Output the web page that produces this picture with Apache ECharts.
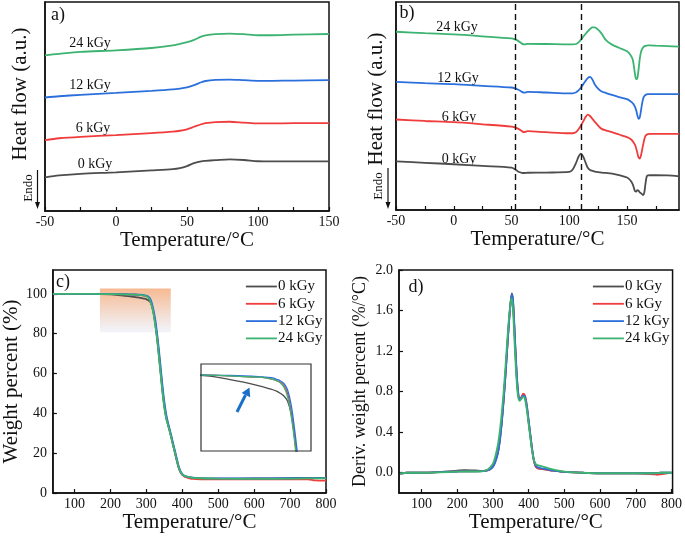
<!DOCTYPE html>
<html><head><meta charset="utf-8">
<script src="https://cdn.jsdelivr.net/npm/echarts@6/dist/echarts.min.js"></script>
<style>html,body{margin:0;padding:0;background:#fff}#c{width:685px;height:540px}</style>
</head><body><div id="c"></div>
<script>
// ---------- data ----------
const seriesNames = ['0 kGy', '6 kGy', '12 kGy', '24 kGy'];
const colors = ['#4d4d4d', '#f03c3c', '#2b6fdc', '#3cb371'];

// a) DSC first heating (arbitrary heat flow units, offset curves)
const aT = [-50, -40, -25, 0, 25, 40, 45, 50, 55, 60, 63, 70, 80, 90, 100, 110, 125, 150];
const a0 = [16.1, 17.0, 17.8, 18.5, 19.4, 20.0, 20.5, 21.5, 22.9, 23.8, 24.0, 24.3, 24.7, 24.4, 23.8, 23.7, 23.7, 23.7];
const a6 = [33.9, 34.8, 35.5, 36.3, 37.3, 38.0, 38.4, 39.1, 40.3, 41.5, 42.0, 42.5, 42.7, 42.3, 41.9, 41.9, 42.0, 42.0];
const a12 = [54.3, 54.9, 55.6, 56.5, 57.5, 58.2, 58.6, 59.2, 60.2, 61.6, 62.2, 62.7, 62.9, 62.6, 62.3, 62.3, 62.4, 62.6];
const a24 = [74.5, 75.2, 76.1, 76.9, 78.0, 79.2, 80.0, 80.8, 81.9, 83.4, 84.0, 84.6, 84.9, 84.6, 84.1, 84.1, 84.4, 84.7];

// b) DSC second heating
const bT = [-50, -25, 0, 25, 50, 53, 56, 59, 61, 64, 80, 100, 103, 106, 108, 110, 112, 114, 116, 118, 120, 122, 125, 128, 132, 137, 143, 150, 153, 155, 157, 158, 159, 160, 161, 162, 163, 164, 165, 166, 167, 168, 170, 175, 185, 195];
const b0 = [23.4, 22.7, 22.0, 21.2, 20.4, 19.6, 18.4, 17.9, 17.8, 17.9, 18.0, 18.3, 19.5, 22.8, 25.6, 27.1, 25.8, 23.0, 20.3, 19.2, 18.8, 18.5, 18.2, 18.0, 17.8, 17.5, 16.8, 15.6, 14.2, 12.3, 9.0, 8.9, 9.6, 9.3, 8.5, 8.1, 7.6, 7.2, 8.5, 12.7, 16.0, 16.6, 16.7, 16.7, 16.6, 16.2];
const b6 = [43.5, 42.8, 42.2, 41.2, 40.1, 39.7, 39.0, 37.9, 37.4, 37.9, 37.4, 36.9, 36.9, 37.5, 38.8, 40.5, 42.5, 44.6, 45.9, 45.2, 43.8, 42.5, 40.6, 39.0, 38.2, 37.4, 36.3, 35.0, 34.1, 33.0, 31.2, 29.5, 27.3, 25.3, 24.7, 26.0, 28.7, 31.5, 34.0, 35.6, 36.2, 36.5, 36.6, 36.6, 36.6, 36.6];
const b12 = [61.6, 61.0, 60.5, 59.7, 58.9, 58.5, 57.8, 56.8, 56.4, 56.8, 56.5, 56.1, 56.1, 56.6, 57.5, 58.8, 60.4, 62.0, 63.4, 64.0, 62.8, 60.5, 58.3, 57.0, 56.2, 55.3, 54.3, 53.3, 52.3, 51.3, 49.5, 47.8, 45.5, 43.8, 44.5, 47.5, 51.0, 53.6, 54.8, 55.3, 55.6, 55.7, 55.7, 55.7, 55.7, 55.7];
const b24 = [85.7, 85.0, 84.4, 83.5, 82.5, 82.0, 81.2, 80.0, 79.6, 79.9, 79.8, 79.6, 79.6, 79.8, 80.6, 81.8, 83.2, 84.6, 85.9, 87.0, 87.8, 87.8, 86.7, 84.8, 81.5, 79.5, 78.0, 76.3, 74.5, 72.2, 65.0, 62.9, 63.5, 67.5, 72.5, 75.8, 77.3, 78.2, 78.7, 78.9, 79.0, 79.1, 79.1, 79.0, 78.8, 78.5];
const bDashT = [53, 110];

// c) TGA
const tgaT = [40, 100, 150, 200, 230, 250, 270, 280, 290, 295, 300, 305, 310, 315, 320, 325, 330, 335, 340, 345, 350, 355, 360, 365, 370, 375, 380, 385, 390, 395, 400, 405, 410, 420, 430, 450, 500, 600, 700, 750, 770, 800];
const tga0 = [100, 100, 100, 99.8, 99.3, 98.9, 98.4, 98.1, 97.8, 97.6, 97.3, 96.9, 96.2, 94.3, 90.6, 85.0, 77.5, 69.0, 60.0, 51.0, 43.5, 38.0, 34.5, 31.2, 27.5, 23.6, 19.8, 16.0, 12.7, 10.5, 9.2, 8.5, 8.1, 7.7, 7.5, 7.3, 7.2, 7.3, 7.5, 7.6, 7.6, 7.6];
const tga6 = [100, 100, 100, 99.9, 99.8, 99.7, 99.6, 99.5, 99.3, 99.1, 98.9, 98.4, 97.3, 94.6, 90.6, 85.5, 78.5, 70.0, 61.0, 52.0, 44.5, 38.8, 34.8, 31.3, 27.8, 24.0, 20.3, 16.5, 13.0, 10.6, 9.2, 8.4, 7.9, 7.4, 7.1, 6.9, 6.8, 6.8, 6.9, 6.9, 6.3, 6.2];
const tga12 = [100, 100, 100, 99.9, 99.85, 99.8, 99.7, 99.6, 99.5, 99.3, 99.1, 98.7, 97.8, 95.6, 91.8, 87.0, 80.0, 72.0, 63.0, 54.0, 46.0, 39.8, 35.5, 32.0, 28.5, 24.6, 21.0, 17.2, 13.5, 11.0, 9.6, 8.8, 8.4, 8.0, 7.7, 7.5, 7.3, 7.3, 7.4, 7.5, 7.5, 7.5];
const tga24 = [100, 100, 100, 99.9, 99.8, 99.7, 99.6, 99.5, 99.3, 99.1, 98.8, 98.2, 96.8, 94.0, 90.0, 84.0, 77.5, 68.5, 59.5, 50.5, 43.0, 37.8, 34.3, 31.0, 27.3, 23.5, 20.0, 16.3, 12.8, 10.7, 9.4, 8.7, 8.3, 7.9, 7.6, 7.4, 7.2, 7.1, 7.2, 7.3, 7.3, 7.3];
const hlT = [171, 368];
const hlW = [80.7, 102.7];

// d) DTG
const dtgT = [40, 60, 100, 150, 200, 220, 250, 270, 280, 290, 300, 305, 310, 315, 320, 325, 330, 335, 340, 345, 350, 353, 356, 360, 365, 370, 375, 380, 385, 390, 395, 400, 405, 410, 415, 420, 425, 430, 440, 450, 470, 500, 550, 600, 700, 750, 760, 770, 800];
const dtg0 = [-0.01, 0, 0, 0.008, 0.02, 0.025, 0.022, 0.018, 0.02, 0.03, 0.06, 0.1, 0.15, 0.22, 0.35, 0.52, 0.73, 0.97, 1.23, 1.5, 1.7, 1.77, 1.7, 1.42, 1.05, 0.8, 0.72, 0.74, 0.77, 0.74, 0.64, 0.5, 0.36, 0.22, 0.12, 0.06, 0.045, 0.04, 0.035, 0.03, 0.02, 0.008, 0, -0.005, -0.005, -0.005, -0.004, 0, 0];
const dtg6 = [-0.01, 0, 0, 0.005, 0.012, 0.014, 0.014, 0.015, 0.02, 0.03, 0.065, 0.1, 0.15, 0.22, 0.34, 0.51, 0.72, 0.96, 1.23, 1.49, 1.69, 1.75, 1.69, 1.43, 1.06, 0.8, 0.73, 0.75, 0.78, 0.76, 0.66, 0.51, 0.36, 0.22, 0.11, 0.06, 0.045, 0.04, 0.035, 0.03, 0.02, 0.008, 0, -0.005, -0.005, -0.015, -0.02, -0.015, 0];
const dtg12 = [-0.01, 0, 0, 0.005, 0.012, 0.014, 0.014, 0.015, 0.02, 0.03, 0.06, 0.09, 0.14, 0.21, 0.33, 0.5, 0.71, 0.95, 1.22, 1.48, 1.69, 1.76, 1.71, 1.46, 1.09, 0.82, 0.73, 0.74, 0.76, 0.75, 0.66, 0.52, 0.37, 0.23, 0.12, 0.07, 0.055, 0.05, 0.04, 0.035, 0.02, 0.008, 0, -0.005, -0.005, -0.005, -0.004, 0, 0];
const dtg24 = [-0.01, 0, 0, 0.004, 0.01, 0.012, 0.012, 0.014, 0.022, 0.045, 0.09, 0.14, 0.21, 0.3, 0.43, 0.6, 0.8, 1.04, 1.3, 1.53, 1.69, 1.72, 1.62, 1.33, 0.98, 0.76, 0.71, 0.73, 0.75, 0.72, 0.62, 0.48, 0.34, 0.21, 0.12, 0.085, 0.075, 0.07, 0.06, 0.05, 0.03, 0.01, 0, -0.005, -0.005, -0.005, -0.003, 0, 0];

const xTicksAB = [-50, 0, 50, 100, 150];
const xMinorAB = [-50, -25, 0, 25, 50, 75, 100, 125, 150, 175];
const xTicksCD = [100, 200, 300, 400, 500, 600, 700, 800];
const yTicksC = [0, 20, 40, 60, 80, 100];
const yTicksD = [0, 0.4, 0.8, 1.2, 1.6, 2.0];

// ---------- chart ----------
const FF = '"Liberation Serif", "Times New Roman", serif';
const zip = (xs, ys) => xs.map((x, i) => [x, ys[i]]);
const chart = echarts.init(document.getElementById('c'), null, {renderer: 'canvas'});

function line(name, xi, data, ci, extra) {
  return Object.assign({
    type: 'line', name: name, xAxisIndex: xi, yAxisIndex: xi, data: data,
    symbol: 'none', smooth: 0.3, color: colors[ci],
    lineStyle: {width: 1.8, color: colors[ci]}, animation: false, z: 3
  }, extra || {});
}
const axisBase = {
  type: 'value', splitLine: {show: false},
  axisLine: {show: true, onZero: false, lineStyle: {color: '#111', width: 1.5}},
  axisTick: {show: true, inside: true, length: 4, lineStyle: {color: '#111', width: 1.2}},
  axisLabel: {fontFamily: FF, fontSize: 14, color: '#111'},
  nameTextStyle: {fontFamily: FF, fontSize: 21, color: '#111'}
};
function ax(o) { return echarts.util.merge(echarts.util.clone(axisBase), o, true); }

const dsc = [[a0, a6, a12, a24], [b0, b6, b12, b24]];
const tga = [tga0, tga6, tga12, tga24];
const dtg = [dtg0, dtg6, dtg12, dtg24];

const series = [];
seriesNames.forEach((n, i) => series.push(line(n, 0, zip(aT, dsc[0][i]), i)));
seriesNames.forEach((n, i) => series.push(line(n, 1, zip(bT, dsc[1][i]), i, i === 0 ? {
  markLine: {silent: true, symbol: 'none', label: {show: false},
    lineStyle: {type: [6, 4], color: '#111', width: 1.4},
    data: bDashT.map(v => ({xAxis: v}))}
} : {})));
seriesNames.forEach((n, i) => series.push(line(n, 2, zip(tgaT, tga[i]), i, i === 0 ? {
  markArea: {silent: true, z: 1,
    itemStyle: {color: {type: 'linear', x: 0, y: 0, x2: 0, y2: 1, colorStops: [
      {offset: 0, color: 'rgba(244,168,118,0.8)'}, {offset: 1, color: 'rgba(236,240,250,0.7)'}]}},
    data: [[{xAxis: hlT[0], yAxis: hlW[1]}, {xAxis: hlT[1], yAxis: hlW[0]}]]}
} : {})));
seriesNames.forEach((n, i) => series.push(line(n, 3, zip(dtgT, dtg[i]), i)));
seriesNames.forEach((n, i) => series.push(line(n, 4, zip(tgaT, tga[i]), i, {lineStyle: {width: 1.3, color: colors[i]}, clip: true})));

const legendBase = {
  data: seriesNames, orient: 'vertical', itemWidth: 31, itemHeight: 14, itemGap: 2.3, padding: 0,
  itemStyle: {opacity: 0, borderWidth: 0},
  lineStyle: {width: 1.8},
  textStyle: {fontFamily: FF, fontSize: 15, color: '#111', lineHeight: 14, padding: [0, 0, 0, -4]},
  selectedMode: false
};

function txt(x, y, s, size, rot) {
  return {type: 'text', x: x, y: y, rotation: rot || 0, silent: true,
    style: {text: s, font: size + 'px ' + FF, fill: '#111', textAlign: 'center', textVerticalAlign: 'middle', align: 'center', verticalAlign: 'middle'}};
}
function endoArrow(x, y1, y2) {
  return [
    {type: 'line', silent: true, shape: {x1: x, y1: y1, x2: x, y2: y2 - 5}, style: {stroke: '#111', lineWidth: 1.2}},
    {type: 'polygon', silent: true, shape: {points: [[x - 2.5, y2 - 7], [x + 2.5, y2 - 7], [x, y2]]}, style: {fill: '#111'}}
  ];
}

const graphic = [
  txt(58, 15, 'a)', 18), txt(407, 13, 'b)', 18), txt(63, 282, 'c)', 18), txt(416, 287, 'd)', 18),
  txt(90, 43, '24 kGy', 14), txt(90, 85, '12 kGy', 14), txt(93, 128, '6 kGy', 14), txt(95, 164, '0 kGy', 14),
  txt(457, 27, '24 kGy', 14), txt(458, 78, '12 kGy', 14), txt(459, 117, '6 kGy', 14), txt(459, 159, '0 kGy', 14),
  txt(20, 94, 'Heat flow (a.u.)', 21, Math.PI / 2), txt(376, 99, 'Heat flow (a.u.)', 21, Math.PI / 2),
  txt(29, 188, 'Endo', 13, Math.PI / 2), txt(379, 186, 'Endo', 13, Math.PI / 2),
  ...endoArrow(37.5, 170, 209), ...endoArrow(388, 168, 209),
  {type: 'line', silent: true, shape: {x1: 237, y1: 412, x2: 245.5, y2: 395}, style: {stroke: '#1a6fc8', lineWidth: 3}},
  {type: 'polygon', silent: true, shape: {points: [[249.5, 387.5], [250.2, 397.2], [241.6, 392.9]]}, style: {fill: '#1a6fc8'}}
];

const option = {
  animation: false,
  backgroundColor: '#fff',
  grid: [
    {left: 45, top: 2, width: 284, height: 209, show: true, borderColor: '#111', borderWidth: 1.5},
    {left: 396, top: 2, width: 283, height: 208, show: true, borderColor: '#111', borderWidth: 1.5},
    {left: 52, top: 270, width: 274, height: 223, show: true, borderColor: '#111', borderWidth: 1.5},
    {left: 399, top: 270, width: 274, height: 223, show: true, borderColor: '#111', borderWidth: 1.5},
    {left: 201, top: 364, width: 110, height: 87, show: true, borderColor: '#333', borderWidth: 1.2, z: 5}
  ],
  xAxis: [
    ax({gridIndex: 0, min: -50, max: 150, interval: 50, name: 'Temperature/°C', nameLocation: 'middle', nameGap: 17,
      axisLabel: {margin: 4, customValues: xTicksAB}, axisTick: {customValues: xMinorAB}}),
    ax({gridIndex: 1, min: -50, max: 195, interval: 50, name: 'Temperature/°C', nameLocation: 'middle', nameGap: 17,
      axisLabel: {margin: 4, customValues: xTicksAB}, axisTick: {customValues: xMinorAB}}),
    ax({gridIndex: 2, min: 40, max: 800, name: 'Temperature/°C', nameLocation: 'middle', nameGap: 18,
      axisLabel: {margin: 4, customValues: xTicksCD}, axisTick: {customValues: xTicksCD}}),
    ax({gridIndex: 3, min: 37, max: 803, name: 'Temperature/°C', nameLocation: 'middle', nameGap: 18,
      axisLabel: {margin: 4, customValues: xTicksCD}, axisTick: {customValues: xTicksCD}}),
    {gridIndex: 4, type: 'value', min: 192, max: 342, show: false}
  ],
  yAxis: [
    ax({gridIndex: 0, min: 0, max: 100, axisLabel: {show: false}, axisTick: {show: false}}),
    ax({gridIndex: 1, min: 0, max: 100, axisLabel: {show: false}, axisTick: {show: false}}),
    ax({gridIndex: 2, min: 0, max: 112, name: 'Weight percent (%)', nameLocation: 'middle', nameGap: 29,
      axisLabel: {margin: 6, customValues: yTicksC}, axisTick: {customValues: yTicksC}}),
    ax({gridIndex: 3, min: -0.2, max: 2.0, name: 'Deriv. weight percent (%/°C)', nameLocation: 'middle', nameGap: 30,
      nameTextStyle: {fontSize: 18},
      axisLabel: {margin: 6, customValues: yTicksD, formatter: v => v.toFixed(1)}, axisTick: {customValues: yTicksD}}),
    {gridIndex: 4, type: 'value', min: 89, max: 101.5, show: false}
  ],
  legend: [
    Object.assign({}, legendBase, {left: 245, top: 279}),
    Object.assign({}, legendBase, {left: 592, top: 279})
  ],
  graphic: graphic,
  series: series
};
chart.setOption(option);
</script></body></html>
